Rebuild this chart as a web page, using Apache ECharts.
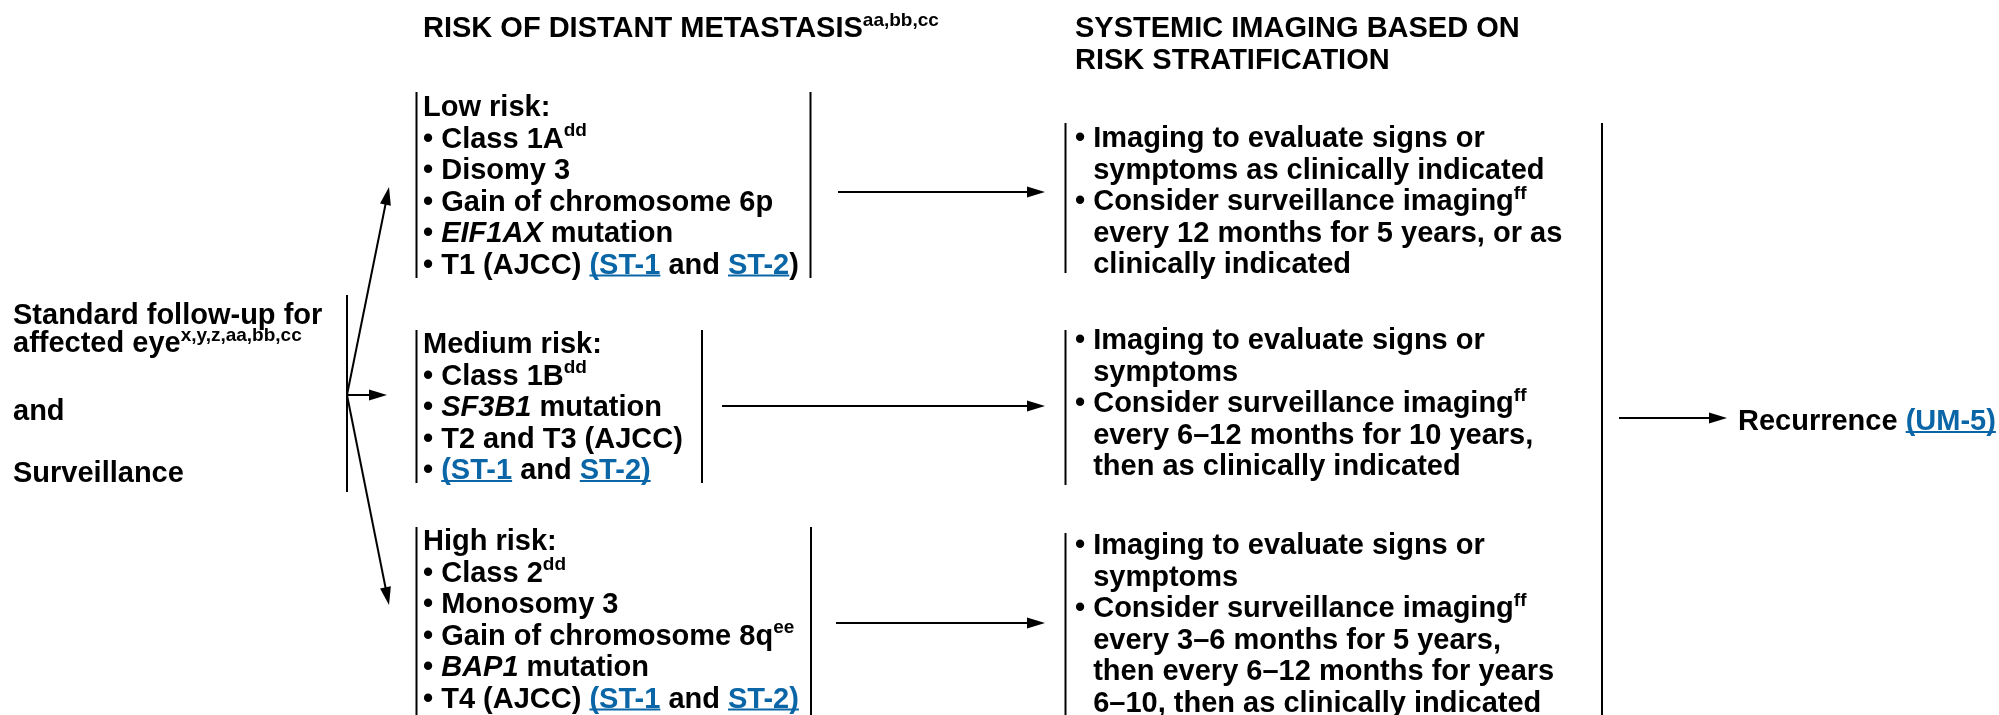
<!DOCTYPE html>
<html>
<head>
<meta charset="utf-8">
<script src="https://cdn.jsdelivr.net/npm/echarts@6/dist/echarts.min.js"></script>
<style>
html,body{margin:0;padding:0;background:#ffffff;}
#chart{width:1999px;height:715px;}
</style>
</head>
<body>
<div id="chart"></div>
<script>
// ---------- content (markup: ^{..} superscript, *..* italic, [..] link, leading ~ = hanging indent) ----------
const headerRisk = ["RISK OF DISTANT METASTASIS^{aa,bb,cc}"];
const headerImaging = ["SYSTEMIC IMAGING BASED ON", "RISK STRATIFICATION"];
const startLines = ["Standard follow-up for", "affected eye^{x,y,z,aa,bb,cc}", "and", "Surveillance"];
const riskLow = ["Low risk:", "• Class 1A^{dd}", "• Disomy 3", "• Gain of chromosome 6p", "• *EIF1AX* mutation", "• T1 (AJCC) [(ST-1] and [ST-2])"];
const riskMedium = ["Medium risk:", "• Class 1B^{dd}", "• *SF3B1* mutation", "• T2 and T3 (AJCC)", "• [(ST-1] and [ST-2)]"];
const riskHigh = ["High risk:", "• Class 2^{dd}", "• Monosomy 3", "• Gain of chromosome 8q^{ee}", "• *BAP1* mutation", "• T4 (AJCC) [(ST-1] and [ST-2)]"];
const imagingLow = ["• Imaging to evaluate signs or", "~symptoms as clinically indicated", "• Consider surveillance imaging^{ff}", "~every 12 months for 5 years, or as", "~clinically indicated"];
const imagingMedium = ["• Imaging to evaluate signs or", "~symptoms", "• Consider surveillance imaging^{ff}", "~every 6–12 months for 10 years,", "~then as clinically indicated"];
const imagingHigh = ["• Imaging to evaluate signs or", "~symptoms", "• Consider surveillance imaging^{ff}", "~every 3–6 months for 5 years,", "~then every 6–12 months for years", "~6–10, then as clinically indicated"];
const recurrenceLine = ["Recurrence [(UM-5)]"];

// ---------- layout & style ----------
const FONT_FAMILY = '"Liberation Sans", Arial, Helvetica, sans-serif';
const FS = 29, SUP = 19, SUP_RAISE = 11, PITCH = 31.5, MID = 0.24;
const INK = '#000000', LINK = '#0a66a6';

const layout = {
  headerRisk:   {x: 423, base: 36},
  headerImg:    {x: 1075, base: 36},
  start:        {x: 13, bases: [323, 351, 419, 481], bar: {x: 347, y1: 295, y2: 492}, origin: [347, 395]},
  risk: [
    {lines: riskLow,    x: 423, base: 115, barL: 416.5, barR: 810.5, y1: 92,  y2: 278, tip: [389, 187]},
    {lines: riskMedium, x: 423, base: 352, barL: 416.5, barR: 702,   y1: 330, y2: 483, tip: [387, 395]},
    {lines: riskHigh,   x: 423, base: 549, barL: 416.5, barR: 811,   y1: 527, y2: 715, tip: [389, 605]}
  ],
  riskArrows: [{x1: 838, x2: 1045, y: 192}, {x1: 722, x2: 1045, y: 406}, {x1: 836, x2: 1045, y: 623}],
  imaging: [
    {lines: imagingLow,    x: 1075, base: 146, bar: 1065.5, y1: 123, y2: 273},
    {lines: imagingMedium, x: 1075, base: 348, bar: 1065.5, y1: 330, y2: 485},
    {lines: imagingHigh,   x: 1075, base: 553, bar: 1065.5, y1: 533, y2: 715}
  ],
  collector: {x: 1602, y1: 123, y2: 715},
  recurrence: {x1: 1619, x2: 1727, y: 418, textX: 1738, base: 429}
};

const ctx = document.createElement('canvas').getContext('2d');
function fontStr(size, italic) { return (italic ? 'italic ' : '') + 'bold ' + size + 'px ' + FONT_FAMILY; }
function parse(s) {
  const segs = []; let i = 0, buf = '', italic = false, link = false;
  const flush = () => { if (buf) { segs.push({t: buf, i: italic, l: link, sup: false}); buf = ''; } };
  while (i < s.length) {
    const c = s[i];
    if (c === '^' && s[i + 1] === '{') { flush(); const j = s.indexOf('}', i); segs.push({t: s.slice(i + 2, j), i: italic, l: link, sup: true}); i = j + 1; continue; }
    if (c === '*') { flush(); italic = !italic; i++; continue; }
    if (c === '[') { flush(); link = true; i++; continue; }
    if (c === ']') { flush(); link = false; i++; continue; }
    buf += c; i++;
  }
  flush();
  return segs;
}
const els = [];
function textLine(str, x, baseline) {
  if (str[0] === '~') { str = str.slice(1); ctx.font = fontStr(FS, false); x += ctx.measureText('• ').width; }
  let cx = x;
  parse(str).forEach(sg => {
    const size = sg.sup ? SUP : FS;
    const f = fontStr(size, sg.i);
    ctx.font = f;
    const w = ctx.measureText(sg.t).width;
    const by = sg.sup ? baseline - SUP_RAISE : baseline;
    els.push({type: 'text', x: cx, y: by - MID * size, silent: true,
      style: {text: sg.t, font: f, fill: sg.l ? LINK : INK, align: 'left', verticalAlign: 'middle', textAlign: 'left', textVerticalAlign: 'middle'}});
    if (sg.l) els.push({type: 'line', silent: true, shape: {x1: cx, y1: baseline + 3, x2: cx + w, y2: baseline + 3}, style: {stroke: LINK, lineWidth: 2}});
    cx += w;
  });
}
function vbar(x, y1, y2) { els.push({type: 'line', silent: true, shape: {x1: x, y1: y1, x2: x, y2: y2}, style: {stroke: INK, lineWidth: 2}}); }
function arrow(x1, y1, x2, y2) {
  const L = 18, W = 5.5, dx = x2 - x1, dy = y2 - y1, len = Math.hypot(dx, dy), ux = dx / len, uy = dy / len;
  const bx = x2 - ux * L, by = y2 - uy * L;
  els.push({type: 'line', silent: true, shape: {x1: x1, y1: y1, x2: bx + ux * 2, y2: by + uy * 2}, style: {stroke: INK, lineWidth: 2}});
  els.push({type: 'polygon', silent: true, shape: {points: [[x2, y2], [bx - uy * W, by + ux * W], [bx + uy * W, by - ux * W]]}, style: {fill: INK}});
}

// headers
headerRisk.forEach((s, k) => textLine(s, layout.headerRisk.x, layout.headerRisk.base + k * PITCH));
headerImaging.forEach((s, k) => textLine(s, layout.headerImg.x, layout.headerImg.base + k * PITCH));
// start block
startLines.forEach((s, k) => textLine(s, layout.start.x, layout.start.bases[k]));
vbar(layout.start.bar.x, layout.start.bar.y1, layout.start.bar.y2);
// risk boxes
layout.risk.forEach(r => {
  r.lines.forEach((s, k) => textLine(s, r.x, r.base + k * PITCH));
  vbar(r.barL, r.y1, r.y2); vbar(r.barR, r.y1, r.y2);
  arrow(layout.start.origin[0], layout.start.origin[1], r.tip[0], r.tip[1]);
});
layout.riskArrows.forEach(a => arrow(a.x1, a.y, a.x2, a.y));
// imaging boxes
layout.imaging.forEach(b => {
  b.lines.forEach((s, k) => textLine(s, b.x, b.base + k * PITCH));
  vbar(b.bar, b.y1, b.y2);
});
vbar(layout.collector.x, layout.collector.y1, layout.collector.y2);
arrow(layout.recurrence.x1, layout.recurrence.y, layout.recurrence.x2, layout.recurrence.y);
recurrenceLine.forEach(s => textLine(s, layout.recurrence.textX, layout.recurrence.base));

const chart = echarts.init(document.getElementById('chart'), null, {renderer: 'canvas'});
chart.setOption({animation: false, backgroundColor: '#ffffff', graphic: {elements: els}});
</script>
</body>
</html>
